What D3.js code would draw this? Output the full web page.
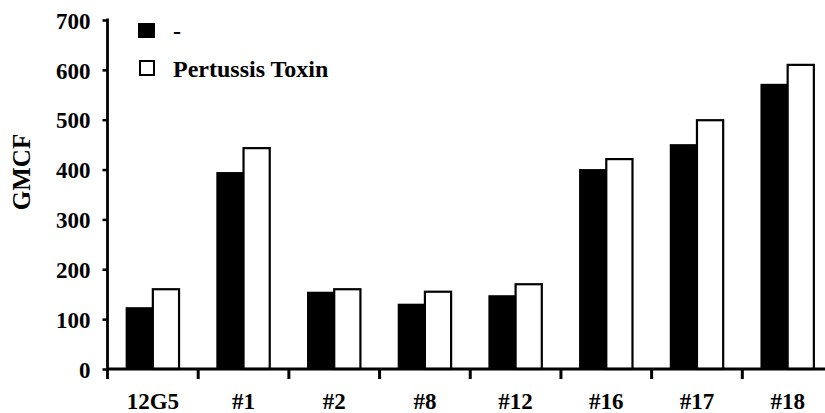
<!DOCTYPE html>
<html>
<head>
<meta charset="utf-8">
<script src="https://cdn.jsdelivr.net/npm/d3@7"></script>
<style>
  html, body { margin: 0; padding: 0; background: #fff; }
  svg { display: block; }
  svg text { font-family: "Liberation Serif", "DejaVu Serif", serif !important; font-weight: bold; fill: #000; }
</style>
</head>
<body>
<svg id="chart" width="825" height="413"></svg>
<script>
// Data
const categories = ["12G5", "#1", "#2", "#8", "#12", "#16", "#17", "#18"];
const controlValues = [124, 395, 155, 131, 148, 401, 451, 572];   // "-"
const ptxValues     = [160, 443, 160, 155, 170, 421, 499, 610];   // Pertussis Toxin
const seriesNames = ["-", "Pertussis Toxin"];
const yTicks = [0, 100, 200, 300, 400, 500, 600, 700];
const yLabel = "GMCF";

const FONT = '"Liberation Serif", "DejaVu Serif", serif';
const svg = d3.select("#chart");
const mLeft = 107.5, mRight = 833, mTop = 20, mBottom = 369;

const x0 = d3.scaleBand().domain(categories).range([mLeft, mRight])
  .paddingInner(0.4).paddingOuter(0.2);
const x1 = d3.scaleBand().domain([0, 1]).range([0, x0.bandwidth()]).padding(0);
const y = d3.scaleLinear().domain([0, 700]).range([mBottom, mTop]);

// Bars
const g = svg.append("g");
categories.forEach((c, i) => {
  const gx = x0(c);
  g.append("rect")
    .attr("x", gx + x1(0))
    .attr("y", y(controlValues[i]))
    .attr("width", x1.bandwidth())
    .attr("height", y(0) - y(controlValues[i]))
    .attr("fill", "#000");
  g.append("rect")
    .attr("x", gx + x1(1))
    .attr("y", y(ptxValues[i]))
    .attr("width", x1.bandwidth() - 1)
    .attr("height", y(0) - y(ptxValues[i]))
    .attr("fill", "#fff")
    .attr("stroke", "#000")
    .attr("stroke-width", 2.2);
});

// Y axis
const yAxis = d3.axisLeft(y).tickValues(yTicks).tickSize(5).tickPadding(12).tickFormat(d3.format("d"));
const ya = svg.append("g").attr("transform", `translate(${mLeft},0)`).call(yAxis)
  .attr("font-family", FONT);
ya.select(".domain").remove();
ya.selectAll(".tick line").attr("stroke", "#000").attr("stroke-width", 2.5);
ya.selectAll(".tick text").style("font-size", "23px").style("font-family", FONT).attr("dy", "0.36em");
svg.append("line")
  .attr("x1", mLeft).attr("x2", mLeft)
  .attr("y1", mTop - 1.5).attr("y2", mBottom + 10)
  .attr("stroke", "#000").attr("stroke-width", 2.8);

// X axis
const xAxis = d3.axisBottom(x0).tickSize(0).tickPadding(24);
const xa = svg.append("g").attr("transform", `translate(0,${mBottom})`).call(xAxis)
  .attr("font-family", FONT);
xa.select(".domain").remove();
xa.selectAll(".tick text").style("font-size", "23px").style("font-family", FONT);
svg.append("line")
  .attr("x1", mLeft).attr("x2", 825)
  .attr("y1", mBottom).attr("y2", mBottom)
  .attr("stroke", "#000").attr("stroke-width", 2.8);
// boundary ticks between groups
const bounds = categories.map((c) => x0(c) - x0.step() * x0.paddingInner() / 2).slice(1);
bounds.push(x0(categories[categories.length - 1]) + x0.bandwidth() + x0.step() * x0.paddingInner() / 2);
svg.append("g").selectAll("line").data(bounds).join("line")
  .attr("x1", d => d).attr("x2", d => d)
  .attr("y1", mBottom).attr("y2", mBottom + 10)
  .attr("stroke", "#000").attr("stroke-width", 3);

// Y label
svg.append("text")
  .attr("transform", "translate(30,172) rotate(-90)")
  .attr("text-anchor", "middle")
  .style("font-size", "25px").style("font-family", FONT)
  .text(yLabel);

// Legend
const lg = svg.append("g");
lg.append("rect").attr("x", 138).attr("y", 23).attr("width", 17).attr("height", 15).attr("fill", "#000");
lg.append("rect").attr("x", 140).attr("y", 61).attr("width", 14).attr("height", 14)
  .attr("fill", "#fff").attr("stroke", "#000").attr("stroke-width", 2);
lg.append("text").attr("x", 173).attr("y", 39).style("font-size", "24px").style("font-family", FONT).text(seriesNames[0]);
lg.append("text").attr("x", 173).attr("y", 77).style("font-size", "24px").style("font-family", FONT).text(seriesNames[1]);
</script>
</body>
</html>
